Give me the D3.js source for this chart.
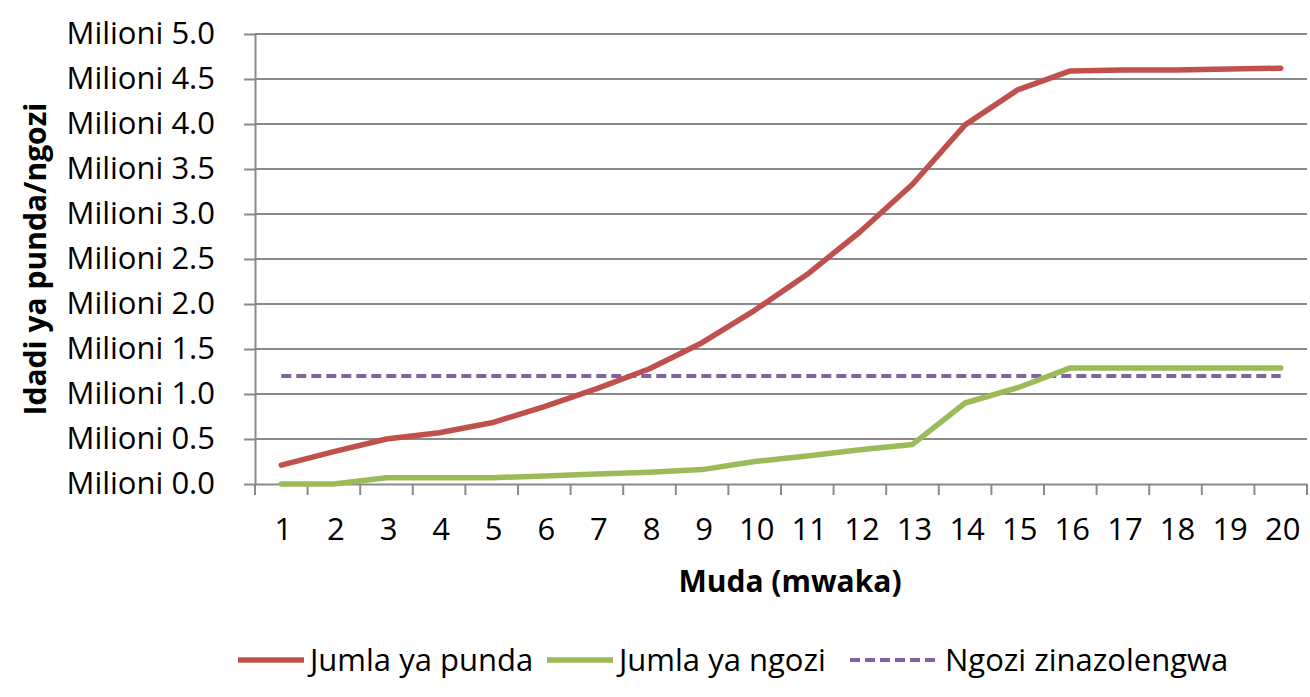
<!DOCTYPE html>
<html>
<head>
<meta charset="utf-8">
<script src="https://cdn.jsdelivr.net/npm/d3@7"></script>
<style>
    body { margin: 0; background: #fff; }
    svg text { font-family: "Open Sans", Lato, sans-serif; fill: #000; }
</style>
</head>
<body>
<div id="viz"></div>
<script>
const years = [1, 2, 3, 4, 5, 6, 7, 8, 9, 10, 11, 12, 13, 14, 15, 16, 17, 18, 19, 20];
const punda = [0.21, 0.36, 0.50, 0.57, 0.68, 0.86, 1.06, 1.28, 1.57, 1.93, 2.33, 2.80, 3.33, 3.99, 4.38, 4.59, 4.60, 4.60, 4.61, 4.62];
const ngozi = [0.00, 0.00, 0.07, 0.07, 0.07, 0.09, 0.11, 0.13, 0.16, 0.25, 0.31, 0.38, 0.44, 0.90, 1.07, 1.29, 1.29, 1.29, 1.29, 1.29];
const lengo = [1.2, 1.2, 1.2, 1.2, 1.2, 1.2, 1.2, 1.2, 1.2, 1.2, 1.2, 1.2, 1.2, 1.2, 1.2, 1.2, 1.2, 1.2, 1.2, 1.2];
const yTicks = [0, 0.5, 1, 1.5, 2, 2.5, 3, 3.5, 4, 4.5, 5];
const seriesNames = ['Jumla ya punda', 'Jumla ya ngozi', 'Ngozi zinazolengwa'];

const width = 1310;
const height = 697;
const plotLeft = 255, plotRight = 1307, plotTop = 34, plotBottom = 484;
const fontSize = 31;
const titleSize = 30;

const series = [
    { name: seriesNames[0], values: punda, color: '#C0504D', w: 5.5, dash: null },
    { name: seriesNames[1], values: ngozi, color: '#9BBB59', w: 5.5, dash: null },
    { name: seriesNames[2], values: lengo, color: '#8064A2', w: 4, dash: '10,5' }
];

let svg = d3.select('#viz')
            .append('svg')
            .attr('width', width)
            .attr('height', height);

let xScale = d3.scaleBand().domain(years).range([plotLeft, plotRight]).padding(0);
let yScale = d3.scaleLinear().domain([0, 5]).range([plotBottom, plotTop]);

// horizontal gridlines
svg.append('g')
   .selectAll('line')
   .data(yTicks.filter(d => d > 0))
   .enter()
   .append('line')
   .attr('x1', plotLeft)
   .attr('x2', plotRight)
   .attr('y1', d => yScale(d))
   .attr('y2', d => yScale(d))
   .attr('stroke', '#8a8a8a')
   .attr('stroke-width', 2);

// y axis
let yAxis = d3.axisLeft(yScale)
              .tickValues(yTicks)
              .tickSizeInner(11)
              .tickSizeOuter(0)
              .tickPadding(29)
              .tickFormat(d => 'Milioni ' + d.toFixed(1));
let gy = svg.append('g')
            .attr('transform', 'translate(' + plotLeft + ',0)')
            .call(yAxis);
gy.selectAll('line').attr('stroke', '#8a8a8a').attr('stroke-width', 2);
gy.select('.domain').attr('stroke', '#8a8a8a').attr('stroke-width', 2);
gy.attr('font-family', null).attr('font-size', null);
gy.selectAll('text').style('font-size', fontSize + 'px');

// x axis: labels in band centers, ticks on band boundaries
let xAxis = d3.axisBottom(xScale).tickSize(0).tickPadding(34);
let gx = svg.append('g')
            .attr('transform', 'translate(0,' + plotBottom + ')')
            .call(xAxis);
gx.select('.domain').attr('stroke', '#8a8a8a').attr('stroke-width', 2);
gx.attr('font-family', null).attr('font-size', null);
gx.selectAll('text').style('font-size', fontSize + 'px').attr('dx', 2);

const bounds = years.map(d => xScale(d)).concat([xScale(years[years.length - 1]) + xScale.bandwidth()]);
svg.append('g')
   .selectAll('line')
   .data(bounds)
   .enter()
   .append('line')
   .attr('x1', d => d)
   .attr('x2', d => d)
   .attr('y1', plotBottom)
   .attr('y2', plotBottom + 11)
   .attr('stroke', '#8a8a8a')
   .attr('stroke-width', 2);

// lines
let line = d3.line()
             .x((d, i) => xScale(years[i]) + xScale.bandwidth() / 2)
             .y(d => yScale(d));

svg.selectAll('path.series')
   .data(series.slice().reverse())
   .enter()
   .append('path')
   .attr('class', 'series')
   .attr('d', d => line(d.values))
   .attr('fill', 'none')
   .attr('stroke', d => d.color)
   .attr('stroke-width', d => d.w)
   .attr('stroke-dasharray', d => d.dash)
   .attr('stroke-linejoin', 'round')
   .attr('stroke-linecap', d => d.dash ? 'butt' : 'round');

// axis titles
svg.append('text')
   .attr('x', 790)
   .attr('y', 592)
   .attr('text-anchor', 'middle')
   .style('font-size', titleSize + 'px')
   .style('font-weight', 'bold')
   .text('Muda (mwaka)');

svg.append('text')
   .attr('transform', 'translate(46,' + (plotTop + plotBottom) / 2 + ') rotate(-90)')
   .attr('text-anchor', 'middle')
   .style('font-size', titleSize + 'px')
   .style('font-weight', 'bold')
   .text('Idadi ya punda/ngozi');

// legend
const legendX = [238, 547, 850];
let legend = svg.append('g');
let items = legend.selectAll('g')
                  .data(series)
                  .enter()
                  .append('g')
                  .attr('transform', (d, i) => 'translate(' + legendX[i] + ',660)');
items.append('line')
     .attr('x1', 0)
     .attr('x2', (d, i) => i === 2 ? 85 : 66)
     .attr('y1', 0)
     .attr('y2', 0)
     .attr('stroke', d => d.color)
     .attr('stroke-width', d => d.w)
     .attr('stroke-dasharray', d => d.dash);
items.append('text')
     .attr('x', (d, i) => i === 2 ? 95 : 72)
     .attr('y', 0)
     .attr('dy', '0.35em')
     .style('font-size', fontSize + 'px')
     .text(d => d.name);
</script>
</body>
</html>
